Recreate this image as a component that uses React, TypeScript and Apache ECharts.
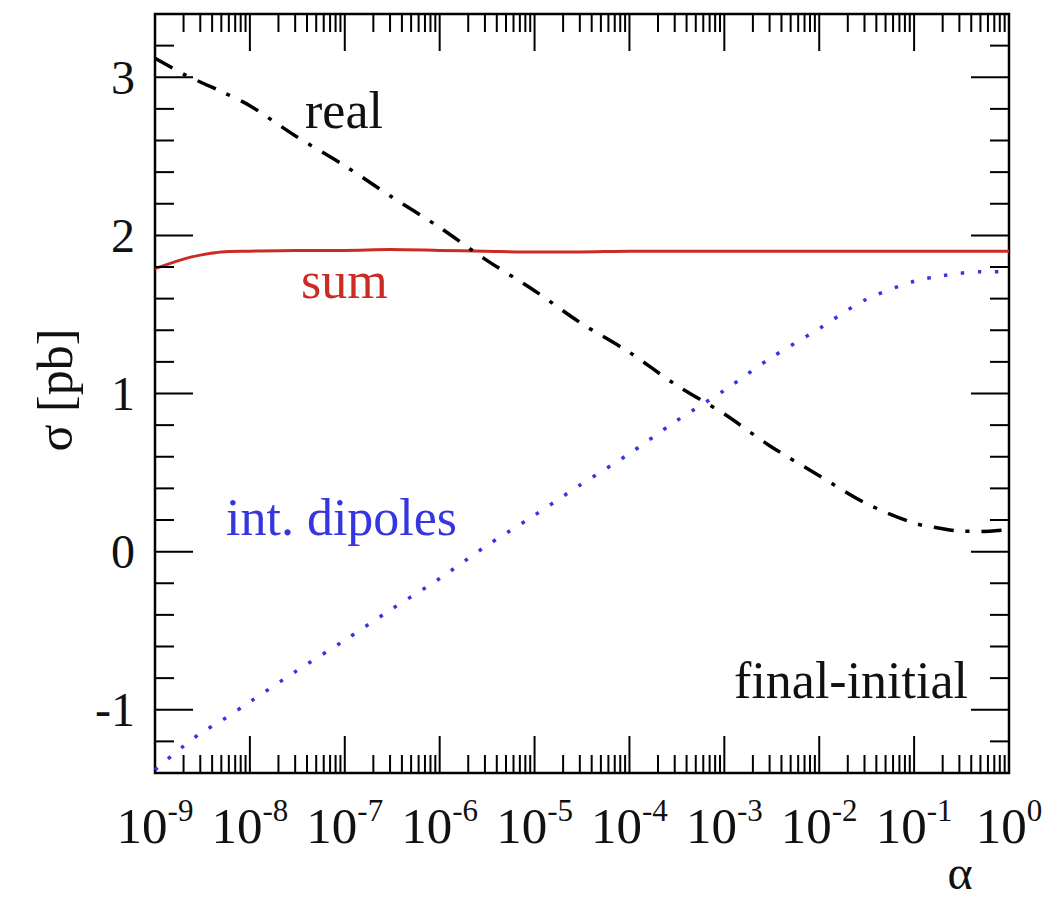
import React, { useEffect, useRef } from "react";
import * as echarts from "echarts";

// alpha values (x) shared by all curves
const ALPHA = [1e-9, 2e-9, 3e-9, 5e-9, 1e-8, 3e-8, 1e-7, 3e-7, 1e-6, 3e-6, 1e-5, 3e-5, 1e-4, 3e-4, 1e-3, 3e-3, 1e-2, 3e-2, 1e-1, 2e-1, 3e-1, 5e-1, 1];
// sigma [pb]
const REAL = [3.12, 3.02, 2.97, 2.91, 2.82, 2.63, 2.44, 2.25, 2.05, 1.85, 1.65, 1.45, 1.26, 1.06, 0.87, 0.67, 0.48, 0.31, 0.18, 0.145, 0.13, 0.128, 0.14];
const DIPOLES = [-1.38, -1.23, -1.15, -1.07, -0.95, -0.76, -0.56, -0.37, -0.17, 0.03, 0.23, 0.42, 0.62, 0.82, 1.02, 1.22, 1.41, 1.59, 1.71, 1.745, 1.76, 1.77, 1.77];
const SUM = [1.79, 1.85, 1.875, 1.895, 1.9, 1.905, 1.905, 1.91, 1.905, 1.9, 1.895, 1.895, 1.9, 1.9, 1.9, 1.9, 1.9, 1.9, 1.9, 1.9, 1.9, 1.9, 1.9];

// axis settings
const X_MIN = 1e-9;
const X_MAX = 1;
const Y_MIN = -1.4;
const Y_MAX = 3.4;
const Y_STEP = 0.2;
const X_DECADES = [-9, -8, -7, -6, -5, -4, -3, -2, -1, 0];
const MINOR_MULT = [2, 3, 4, 5, 6, 7, 8, 9];

const FONT = "'Liberation Serif', 'DejaVu Serif', serif";
const RED = "#cc2b24";
const BLUE = "#3636e0";

export default function App() {
  const ref = useRef<HTMLDivElement>(null);

  useEffect(() => {
    if (!ref.current) return;
    const chart = echarts.init(ref.current, null, { renderer: "svg" });

    const xTicks: number[][] = [];
    X_DECADES.forEach((d) => {
      const base = Math.pow(10, d);
      if (d > -9 && d < 0) xTicks.push([base, Y_MIN, 37]);
      if (d < 0) MINOR_MULT.forEach((m) => xTicks.push([m * base, Y_MIN, 18]));
    });
    const yTicks: number[][] = [];
    const nY = Math.round((Y_MAX - Y_MIN) / Y_STEP);
    for (let k = 1; k < nY; k++) {
      const v = +(Y_MIN + k * Y_STEP).toFixed(4);
      const major = Math.abs(v - Math.round(v)) < 1e-6;
      yTicks.push([X_MIN, v, major ? 38 : 19]);
    }

    const tickStyle = { stroke: "#000", lineWidth: 2 };

    const option: any = {
      animation: false,
      backgroundColor: "#fff",
      grid: {
        left: 155,
        right: 55,
        top: 14,
        bottom: 131,
        show: true,
        borderColor: "#000",
        borderWidth: 2.5,
        backgroundColor: "transparent",
      },
      xAxis: {
        type: "log",
        logBase: 10,
        min: X_MIN,
        max: X_MAX,
        axisLine: { show: false },
        axisTick: { show: false },
        splitLine: { show: false },
        minorTick: { show: false },
        axisLabel: {
          show: true,
          margin: 22,
          showMinLabel: true,
          showMaxLabel: true,
          formatter: (v: number) => {
            const e = Math.round(Math.log10(v));
            return `{n|10}{s|${e}}`;
          },
          rich: {
            n: { fontSize: 51, fontFamily: FONT, color: "#111", lineHeight: 56, verticalAlign: "bottom" },
            s: { fontSize: 31, fontFamily: FONT, color: "#111", lineHeight: 56, verticalAlign: "top" },
          },
        },
      },
      yAxis: {
        type: "value",
        min: Y_MIN,
        max: Y_MAX,
        interval: Y_STEP,
        axisLine: { show: false },
        axisTick: { show: false },
        splitLine: { show: false },
        axisLabel: {
          margin: 20,
          fontSize: 48,
          fontFamily: FONT,
          color: "#111",
          formatter: (v: number) => {
            const r = Math.round(v);
            return Math.abs(v - r) < 1e-6 ? String(r) : "";
          },
        },
      },
      series: [
        {
          name: "real",
          type: "line",
          data: ALPHA.map((a, i) => [a, REAL[i]]),
          showSymbol: false,
          smooth: 0.3,
          lineStyle: { color: "#000", width: 3.5, type: [20, 12, 4, 12], cap: "butt" },
          z: 3,
        },
        {
          name: "sum",
          type: "line",
          data: ALPHA.map((a, i) => [a, SUM[i]]),
          showSymbol: false,
          smooth: 0.3,
          lineStyle: { color: RED, width: 3 },
          z: 2,
        },
        {
          name: "int. dipoles",
          type: "line",
          data: ALPHA.map((a, i) => [a, DIPOLES[i]]),
          showSymbol: false,
          smooth: 0.3,
          lineStyle: { color: BLUE, width: 3.5, type: [3.5, 13.5], cap: "butt" },
          z: 2,
        },
        {
          name: "xticks",
          type: "custom",
          silent: true,
          z: 5,
          data: xTicks,
          renderItem: (_p: any, api: any) => {
            const a = api.value(0);
            const len = api.value(2);
            const pb = api.coord([a, Y_MIN]);
            const pt = api.coord([a, Y_MAX]);
            return {
              type: "group",
              children: [
                { type: "line", shape: { x1: pb[0], y1: pb[1], x2: pb[0], y2: pb[1] - len }, style: tickStyle },
                { type: "line", shape: { x1: pt[0], y1: pt[1], x2: pt[0], y2: pt[1] + len }, style: tickStyle },
              ],
            };
          },
        },
        {
          name: "yticks",
          type: "custom",
          silent: true,
          z: 5,
          data: yTicks,
          renderItem: (_p: any, api: any) => {
            const v = api.value(1);
            const len = api.value(2);
            const pl = api.coord([X_MIN, v]);
            const pr = api.coord([X_MAX, v]);
            return {
              type: "group",
              children: [
                { type: "line", shape: { x1: pl[0], y1: pl[1], x2: pl[0] + len, y2: pl[1] }, style: tickStyle },
                { type: "line", shape: { x1: pr[0], y1: pr[1], x2: pr[0] - len, y2: pr[1] }, style: tickStyle },
              ],
            };
          },
        },
      ],
      graphic: [
        { type: "text", x: 305, y: 110, style: { text: "real", fontSize: 52, fontFamily: FONT, fill: "#111", align: "left", verticalAlign: "middle" } },
        { type: "text", x: 301, y: 280, style: { text: "sum", fontSize: 52, fontFamily: FONT, fill: RED, align: "left", verticalAlign: "middle" } },
        { type: "text", x: 226, y: 517, style: { text: "int. dipoles", fontSize: 52, fontFamily: FONT, fill: BLUE, align: "left", verticalAlign: "middle" } },
        { type: "text", x: 968, y: 680, style: { text: "final-initial", fontSize: 52, fontFamily: FONT, fill: "#111", align: "right", verticalAlign: "middle" } },
        { type: "text", x: 960, y: 872, style: { text: "α", fontSize: 48, fontFamily: FONT, fill: "#111", align: "center", verticalAlign: "middle" } },
        { type: "text", x: 55, y: 390, rotation: Math.PI / 2, style: { text: "σ [pb]", fontSize: 50, fontFamily: FONT, fill: "#111", align: "center", verticalAlign: "middle" } },
      ],
    };

    chart.setOption(option);
    return () => chart.dispose();
  }, []);

  return <div ref={ref} style={{ position: "fixed", left: 0, top: 0, width: 1064, height: 904 }} />;
}
